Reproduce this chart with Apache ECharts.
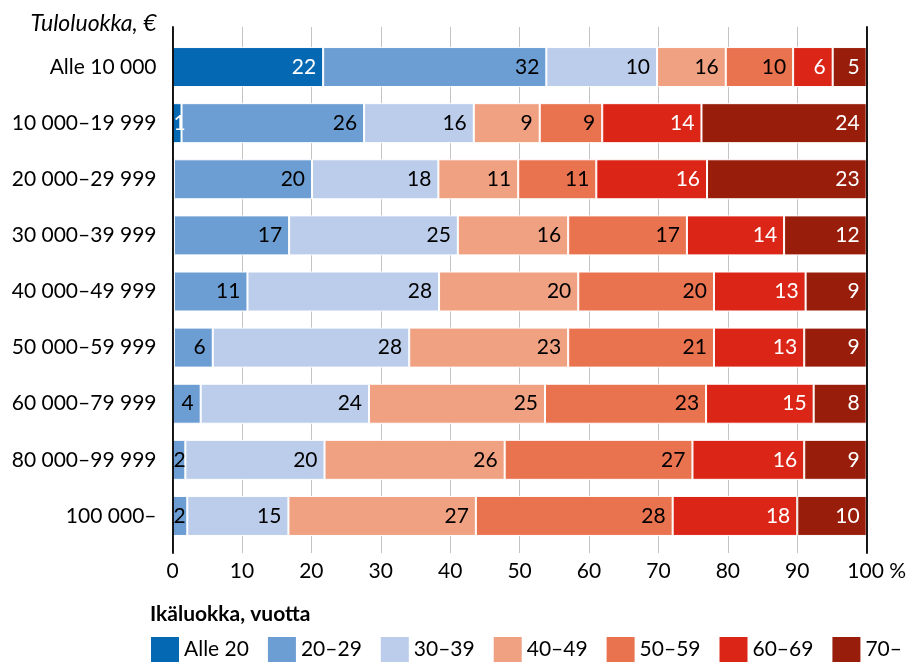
<!DOCTYPE html>
<html>
<head>
<meta charset="utf-8">
<script src="https://cdn.jsdelivr.net/npm/echarts@6/dist/echarts.min.js"></script>
<style>html,body{margin:0;padding:0;background:#fff}#c{width:913px;height:662px}</style>
</head>
<body>
<div id="c"></div>
<script>
// Income classes (categories)
const categories = ['Alle 10 000','10 000–19 999','20 000–29 999','30 000–39 999','40 000–49 999','50 000–59 999','60 000–79 999','80 000–99 999','100 000–'];
const seriesNames = ['Alle 20','20–29','30–39','40–49','50–59','60–69','70–'];

// Bar lengths (%) as drawn
const alle20 = [21.7, 1.3, 0.2, 0.2, 0.2, 0.2, 0, 0, 0];
const age20_29 = [32.15, 26.3, 19.9, 16.6, 10.6, 5.6, 4.06, 1.85, 2.13];
const age30_39 = [15.95, 15.8, 18.2, 24.3, 27.6, 28.3, 24.25, 20.05, 14.57];
const age40_49 = [9.9, 9.5, 11.5, 15.9, 20.05, 22.9, 25.35, 25.95, 27.0];
const age50_59 = [9.7, 9.0, 11.25, 17.1, 19.55, 21.0, 23.2, 27.05, 28.35];
const age60_69 = [5.7, 14.3, 15.95, 14.0, 13.2, 13.0, 15.5, 16.1, 17.95];
const age70 = [4.9, 23.8, 23.0, 11.9, 8.8, 9.0, 7.64, 9.0, 10.0];

// Printed value labels
const lab_alle20 = [22, 1, null, null, null, null, null, null, null];
const lab_20_29 = [32, 26, 20, 17, 11, 6, 4, 2, 2];
const lab_30_39 = [10, 16, 18, 25, 28, 28, 24, 20, 15];
const lab_40_49 = [16, 9, 11, 16, 20, 23, 25, 26, 27];
const lab_50_59 = [10, 9, 11, 17, 20, 21, 23, 27, 28];
const lab_60_69 = [6, 14, 16, 14, 13, 13, 15, 16, 18];
const lab_70 = [5, 24, 23, 12, 9, 9, 8, 9, 10];

const xTicks = [0,10,20,30,40,50,60,70,80,90,100];

const values = [alle20, age20_29, age30_39, age40_49, age50_59, age60_69, age70];
const labels = [lab_alle20, lab_20_29, lab_30_39, lab_40_49, lab_50_59, lab_60_69, lab_70];
const colors = ['#0568b3','#6d9ed3','#bbcdeb','#f0a182','#e9724f','#db2617','#981d0a'];
const labelColors = ['#fff','#000','#000','#000','#000','#fff','#fff'];

const FONT = 'Lato';
const FS = 21;

const chart = echarts.init(document.getElementById('c'), null, {renderer:'canvas'});

const series = values.map((vals, s) => ({
  name: seriesNames[s],
  type: 'bar',
  stack: 'total',
  xAxisIndex: 0,
  yAxisIndex: 0,
  barWidth: 40,
  itemStyle: {color: colors[s], borderColor: '#fff', borderWidth: 1},
  data: vals.map((v, i) => {
    const small = v < 3;
    return {
      value: v,
      label: {
        show: labels[s][i] != null,
        position: small ? 'insideLeft' : 'insideRight',
        distance: small ? 1 : 7
      }
    };
  }),
  label: {
    show: true,
    color: labelColors[s],
    fontFamily: FONT,
    fontSize: FS,
    formatter: p => labels[s][p.dataIndex] == null ? '' : String(labels[s][p.dataIndex])
  },
  emphasis: {disabled: true},
  animation: false
}));

const option = {
  animation: false,
  textStyle: {fontFamily: FONT},
  title: {
    text: 'Ikäluokka, vuotta',
    left: 150,
    top: 604,
    padding: 0,
    textStyle: {fontFamily: FONT, fontSize: FS, fontWeight: 'bold', color: '#000'}
  },
  legend: {
    data: seriesNames,
    left: 151,
    top: 637,
    padding: 0,
    icon: 'rect',
    itemWidth: 28,
    itemHeight: 25,
    itemGap: 19,
    itemStyle: {borderWidth: 0},
    textStyle: {fontFamily: FONT, fontSize: FS, color: '#000'}
  },
  grid: [
    {left: 172.5, right: 46.3, top: 39, bottom: 118},
    {left: 172.5, right: 46.3, top: 27, bottom: 109}
  ],
  xAxis: [
    {type: 'value', gridIndex: 0, min: 0, max: 100, show: false},
    {
      type: 'value', gridIndex: 1, min: 0, max: 100, interval: 10,
      axisLine: {show: false},
      axisTick: {show: false},
      splitLine: {show: true, lineStyle: {color: '#c4c4c4', width: 1}},
      axisLabel: {
        fontFamily: FONT, fontSize: FS, color: '#000', margin: 8,
        formatter: v => v === 100 ? '{p|100 %}' : String(v),
        rich: {p: {padding: [0, 0, 0, 20], fontFamily: FONT, fontSize: FS, color: '#000'}}
      }
    }
  ],
  yAxis: [
    {
      type: 'category', gridIndex: 0, data: categories, inverse: true,
      axisLine: {show: false}, axisTick: {show: false}, splitLine: {show: false},
      axisLabel: {fontFamily: FONT, fontSize: FS, color: '#000', margin: 16},
      name: 'Tuloluokka, €',
      nameLocation: 'start',
      nameGap: 15,
      nameTextStyle: {fontFamily: FONT, fontSize: 23, fontStyle: 'italic', color: '#000', align: 'right', verticalAlign: 'middle', padding: [0, 16, 0, 0]}
    },
    {
      type: 'value', gridIndex: 1, position: 'left', z: 5,
      axisLine: {show: true, lineStyle: {color: '#000', width: 1.8}},
      axisTick: {show: false}, axisLabel: {show: false}, splitLine: {show: false}
    },
    {
      type: 'value', gridIndex: 1, position: 'right', z: 5,
      axisLine: {show: true, lineStyle: {color: '#000', width: 1.8}},
      axisTick: {show: false}, axisLabel: {show: false}, splitLine: {show: false}
    }
  ],
  series: series
};
chart.setOption(option);
</script>
</body>
</html>
